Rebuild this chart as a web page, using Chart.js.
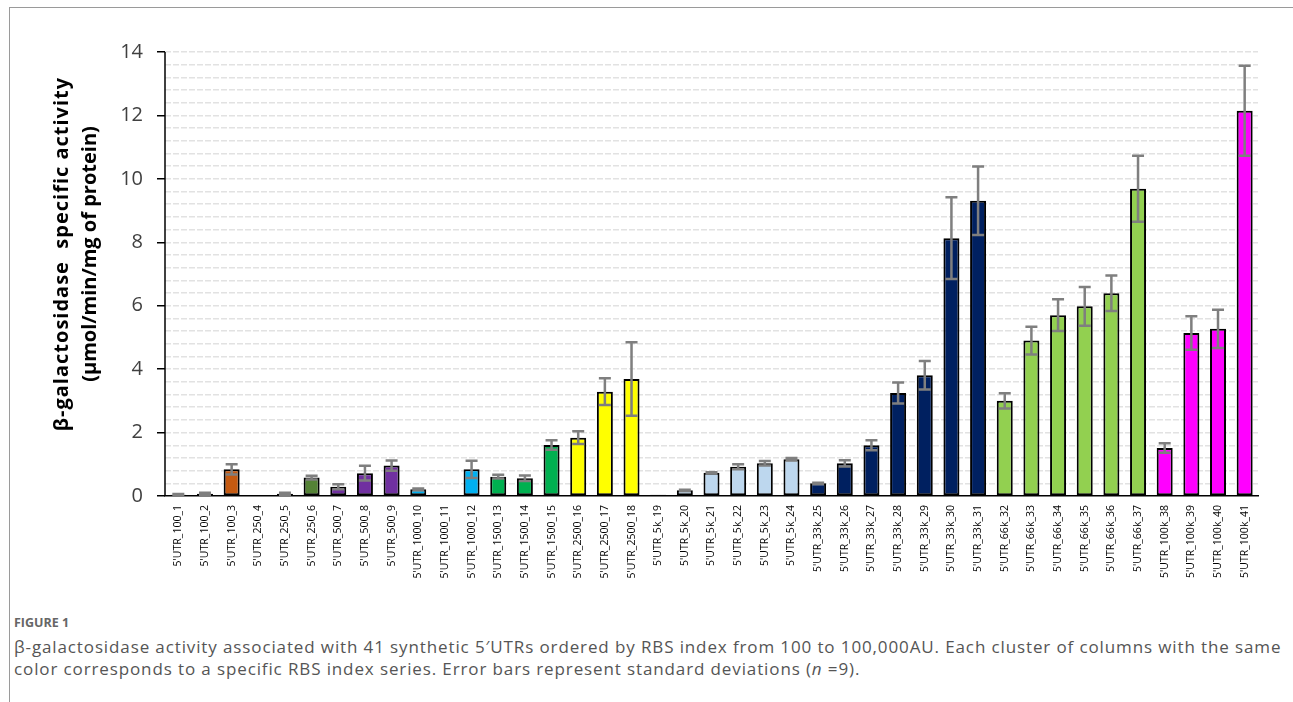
<!DOCTYPE html>
<html>
<head>
<meta charset="utf-8">
<script src="https://cdn.jsdelivr.net/npm/chart.js@4.4.1/dist/chart.umd.min.js"></script>
<style>
  html, body { margin: 0; padding: 0; background: #fff; }
  body { width: 1293px; height: 702px; position: relative; overflow: hidden; }
  #frame { position: absolute; left: 9px; top: 7px; width: 1300px; height: 700px;
           border-top: 1.5px solid #9a9a9a; border-left: 1.5px solid #9a9a9a; }
  #wrap { position: absolute; left: 0; top: 0; width: 1293px; height: 600px; }
  .cap { position: absolute; left: 14px; font-family: 'Open Sans', sans-serif; color: #555; white-space: nowrap; }
  #figlabel { top: 614px; font-size: 12.5px; font-weight: bold; color: #666; }
  #line1 { top: 635px; font-size: 17px; letter-spacing: 0.88px; }
  #line2 { top: 657px; font-size: 17px; letter-spacing: 0.88px; }
</style>
</head>
<body>
<div id="frame"></div>
<div id="wrap"><canvas id="activityChart" width="1293" height="600"></canvas></div>
<div class="cap" id="figlabel">FIGURE 1</div>
<div class="cap" id="line1">β-galactosidase activity associated with 41 synthetic 5′UTRs ordered by RBS index from 100 to 100,000AU. Each cluster of columns with the same</div>
<div class="cap" id="line2">color corresponds to a specific RBS index series. Error bars represent standard deviations (<i>n</i> =9).</div>

<script>
// construct names, one per column
const utrNames = [
    "5'UTR_100_1", "5'UTR_100_2", "5'UTR_100_3",
    "5'UTR_250_4", "5'UTR_250_5", "5'UTR_250_6",
    "5'UTR_500_7", "5'UTR_500_8", "5'UTR_500_9",
    "5'UTR_1000_10", "5'UTR_1000_11", "5'UTR_1000_12",
    "5'UTR_1500_13", "5'UTR_1500_14", "5'UTR_1500_15",
    "5'UTR_2500_16", "5'UTR_2500_17", "5'UTR_2500_18",
    "5'UTR_5k_19", "5'UTR_5k_20", "5'UTR_5k_21", "5'UTR_5k_22", "5'UTR_5k_23", "5'UTR_5k_24",
    "5'UTR_33k_25", "5'UTR_33k_26", "5'UTR_33k_27", "5'UTR_33k_28", "5'UTR_33k_29", "5'UTR_33k_30", "5'UTR_33k_31",
    "5'UTR_66k_32", "5'UTR_66k_33", "5'UTR_66k_34", "5'UTR_66k_35", "5'UTR_66k_36", "5'UTR_66k_37",
    "5'UTR_100k_38", "5'UTR_100k_39", "5'UTR_100k_40", "5'UTR_100k_41"
];

// mean specific activity (µmol/min/mg of protein)
const activity = [
    0.04, 0.07, 0.84,
    0, 0.07, 0.58,
    0.29, 0.72, 0.96,
    0.21, 0, 0.84,
    0.61, 0.56, 1.61,
    1.84, 3.29, 3.69,
    0.04, 0.18, 0.73, 0.92, 1.03, 1.16,
    0.40, 1.03, 1.60, 3.25, 3.81, 8.13, 9.31,
    3.00, 4.90, 5.70, 5.98, 6.39, 9.69,
    1.51, 5.14, 5.27, 12.15
];

// standard deviations (n = 9)
const stdDev = [
    0.02, 0.03, 0.16,
    0, 0.03, 0.06,
    0.08, 0.23, 0.16,
    0.03, 0, 0.27,
    0.06, 0.09, 0.15,
    0.20, 0.42, 1.16,
    0, 0.02, 0.02, 0.08, 0.07, 0.04,
    0.02, 0.10, 0.16, 0.33, 0.45, 1.29, 1.08,
    0.24, 0.44, 0.50, 0.61, 0.56, 1.04,
    0.15, 0.53, 0.60, 1.42
];

// RBS index series: how many columns each has and its colour
const seriesSizes = [3, 3, 3, 3, 3, 3, 6, 7, 6, 4];
const seriesColors = ['#C55A11', '#548235', '#7030A0', '#00B0F0', '#00B050',
                      '#FFFF00', '#BDD7EE', '#002060', '#92D050', '#FF00FF'];

const yTicks = [0, 2, 4, 6, 8, 10, 12, 14];

// one colour per bar, from the series sizes
const barColors = [];
seriesSizes.forEach((n, i) => {
    for (let k = 0; k < n; k++) barColors.push(seriesColors[i]);
});

const isMajor = v => yTicks.some(t => Math.abs(t - v) < 1e-6);

// draws the +/- SD whiskers on top of the bars
const errorBars = {
    id: 'errorBars',
    afterDatasetsDraw(chart) {
        const ctx = chart.ctx;
        const y = chart.scales.y;
        const meta = chart.getDatasetMeta(0);
        ctx.save();
        ctx.strokeStyle = '#7f7f7f';
        ctx.lineWidth = 2.5;
        meta.data.forEach((bar, i) => {
            const sd = stdDev[i];
            if (!sd) return;
            const hi = y.getPixelForValue(activity[i] + sd);
            const lo = y.getPixelForValue(Math.max(activity[i] - sd, 0));
            ctx.beginPath();
            ctx.moveTo(bar.x, lo);
            ctx.lineTo(bar.x, hi);
            ctx.moveTo(bar.x - 6, hi);
            ctx.lineTo(bar.x + 6, hi);
            ctx.moveTo(bar.x - 6, lo);
            ctx.lineTo(bar.x + 6, lo);
            ctx.stroke();
        });
        ctx.restore();
    }
};

// solid y axis line (the grid lines are dashed) and the two-line y title
const yAxisDecor = {
    id: 'yAxisDecor',
    afterDraw(chart) {
        const ctx = chart.ctx;
        const area = chart.chartArea;
        ctx.save();
        ctx.strokeStyle = '#000';
        ctx.lineWidth = 1.5;
        ctx.beginPath();
        ctx.moveTo(area.left, area.top);
        ctx.lineTo(area.left, area.bottom);
        ctx.stroke();

        ctx.translate(62, 254);
        ctx.rotate(-Math.PI / 2);
        ctx.font = "bold 20px 'Open Sans'";
        ctx.fillStyle = '#000';
        ctx.textAlign = 'center';
        ctx.textBaseline = 'middle';
        ctx.letterSpacing = '1px';
        ctx.fillText('β-galactosidase  specific activity', 0, 0);
        ctx.letterSpacing = '0px';
        ctx.fillText('(µmol/min/mg of protein)', 0, 28);
        ctx.restore();
    }
};

new Chart(document.getElementById('activityChart'), {
    type: 'bar',
    data: {
        labels: utrNames,
        datasets: [{
            data: activity,
            backgroundColor: barColors,
            borderColor: '#000',
            borderWidth: 2,
            borderSkipped: false,
            barPercentage: 0.6,
            categoryPercentage: 1
        }]
    },
    options: {
        responsive: false,
        animation: false,
        layout: { padding: { left: 0, top: 52, right: 35, bottom: 0 } },
        plugins: {
            legend: { display: false },
            tooltip: { enabled: false }
        },
        scales: {
            x: {
                grid: { display: false, drawTicks: false },
                border: { display: true, color: '#000', width: 1.5 },
                ticks: {
                    autoSkip: false,
                    maxRotation: 90,
                    minRotation: 90,
                    padding: 9,
                    color: '#000',
                    font: { family: 'Open Sans', size: 10.5 }
                },
                afterFit: s => { s.height = 104; }
            },
            y: {
                min: 0,
                max: 14,
                ticks: {
                    stepSize: 0.4,
                    autoSkip: false,
                    padding: 14,
                    color: '#404040',
                    font: { family: 'Open Sans', size: 20 },
                    callback: v => isMajor(v) ? v : ''
                },
                grid: {
                    color: ctx => (ctx.tick && ctx.tick.value === 0) ? 'rgba(0,0,0,0)' : '#e2e2e2',
                    lineWidth: 1.5,
                    tickLength: 8,
                    tickWidth: 1.5,
                    tickColor: ctx => (ctx.tick && isMajor(ctx.tick.value)) ? '#000' : 'rgba(0,0,0,0)'
                },
                border: { display: false, dash: [6, 2] },
                afterFit: s => { s.width = 165; }
            }
        }
    },
    plugins: [errorBars, yAxisDecor]
});
</script>
</body>
</html>
